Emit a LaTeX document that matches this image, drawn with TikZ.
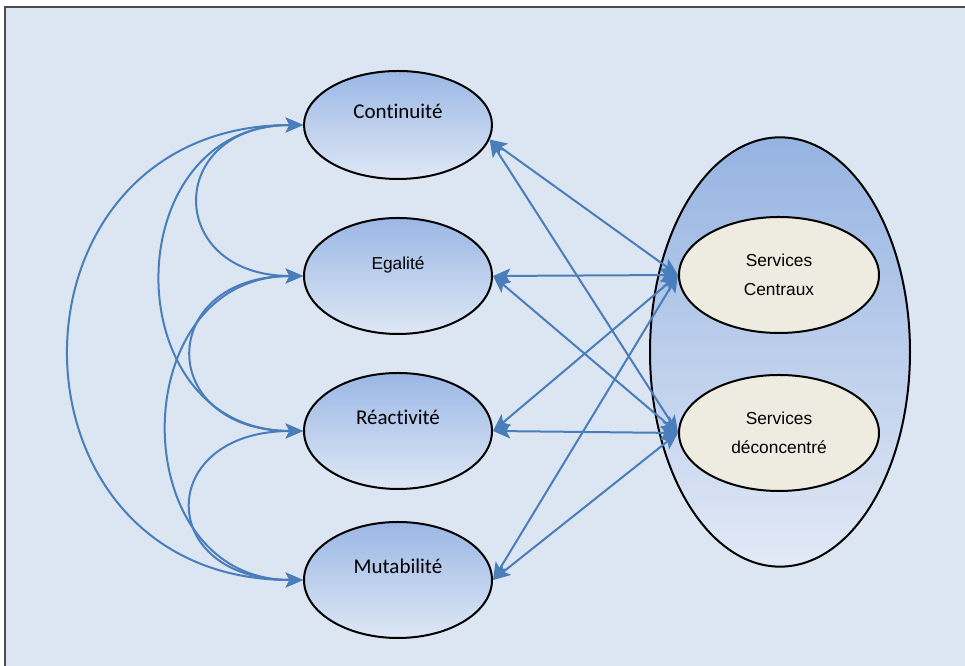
\documentclass[tikz,border=0pt]{standalone}
\usepackage{fontspec}
\newfontfamily\calibrifont[Ligatures={NoCommon,NoRare}, RawFeature=-clig]{Carlito}
\newfontfamily\arialfont{Liberation Sans}
\usepackage{tikz}
\usetikzlibrary{shapes.geometric, arrows.meta}
\definecolor{bgblue}{RGB}{220,230,242}
\definecolor{linkblue}{RGB}{74,126,187}
\definecolor{ovaltop}{RGB}{155,183,229}
\definecolor{ovalbot}{RGB}{222,231,245}
\definecolor{grptop}{RGB}{149,179,225}
\definecolor{grpbot}{RGB}{226,233,246}
\definecolor{servfill}{RGB}{238,236,225}

\begin{document}
\begin{tikzpicture}[
    x=0.75pt, y=0.75pt,
    quality/.style={ellipse, draw, line width=1.5pt, top color=ovaltop, bottom color=ovalbot, minimum width=141pt, minimum height=87pt, text height=12pt, text depth=21pt, font=\calibrifont\fontsize{15.75}{18}\selectfont},
    service/.style={ellipse, draw, line width=1.5pt, fill=servfill, minimum width=150pt, minimum height=87pt, align=center, font=\arialfont\fontsize{13}{21.75}\selectfont},
    link/.style={{Stealth[length=13pt,width=11pt,inset=3pt]}-{Stealth[length=13pt,width=11pt,inset=3pt]}, line width=1.5pt, draw=linkblue}
]
    \useasboundingbox (0,0) rectangle (965,666);
    \clip (0,0) rectangle (965,666);
    % Frame
    \draw[line width=1.2pt, draw=black!70, fill=bgblue] (5,-20) rectangle (990,659);

    % Principles
    \node[quality, minimum height=81pt] (cont) at (398,541) {Continuité};
    \node[quality, font=\arialfont\fontsize{13}{16}\selectfont] (egal) at (398,390) {Egalité};
    \node[quality] (reac) at (398,235) {Réactivité};
    \node[quality] (muta) at (398,86) {Mutabilité};

    % Services
    \node[ellipse, draw, line width=1.5pt, top color=grptop, bottom color=grpbot, minimum width=195pt, minimum height=322pt] (grp) at (780,314) {};
    \node[service] (cent) at (779,391) {Services\\Centraux};
    \node[service] (deco) at (779,233) {Services\\déconcentré};

    % Links to services
    \foreach \q/\a in {cont/351, egal/0, reac/0, muta/0}
        \foreach \s in {cent, deco}
            \draw[link] (\q.\a) -- (\s.west);

    % Links between principles
    \foreach \a/\b/\l in {cont/egal/2.35, cont/reac/1.58, cont/muta/1.75, egal/reac/2.44, egal/muta/1.52, reac/muta/2.55}
        \draw[link] (\a.west) to[out=180, in=180, looseness=\l] (\b.west);
\end{tikzpicture}
\end{document}
